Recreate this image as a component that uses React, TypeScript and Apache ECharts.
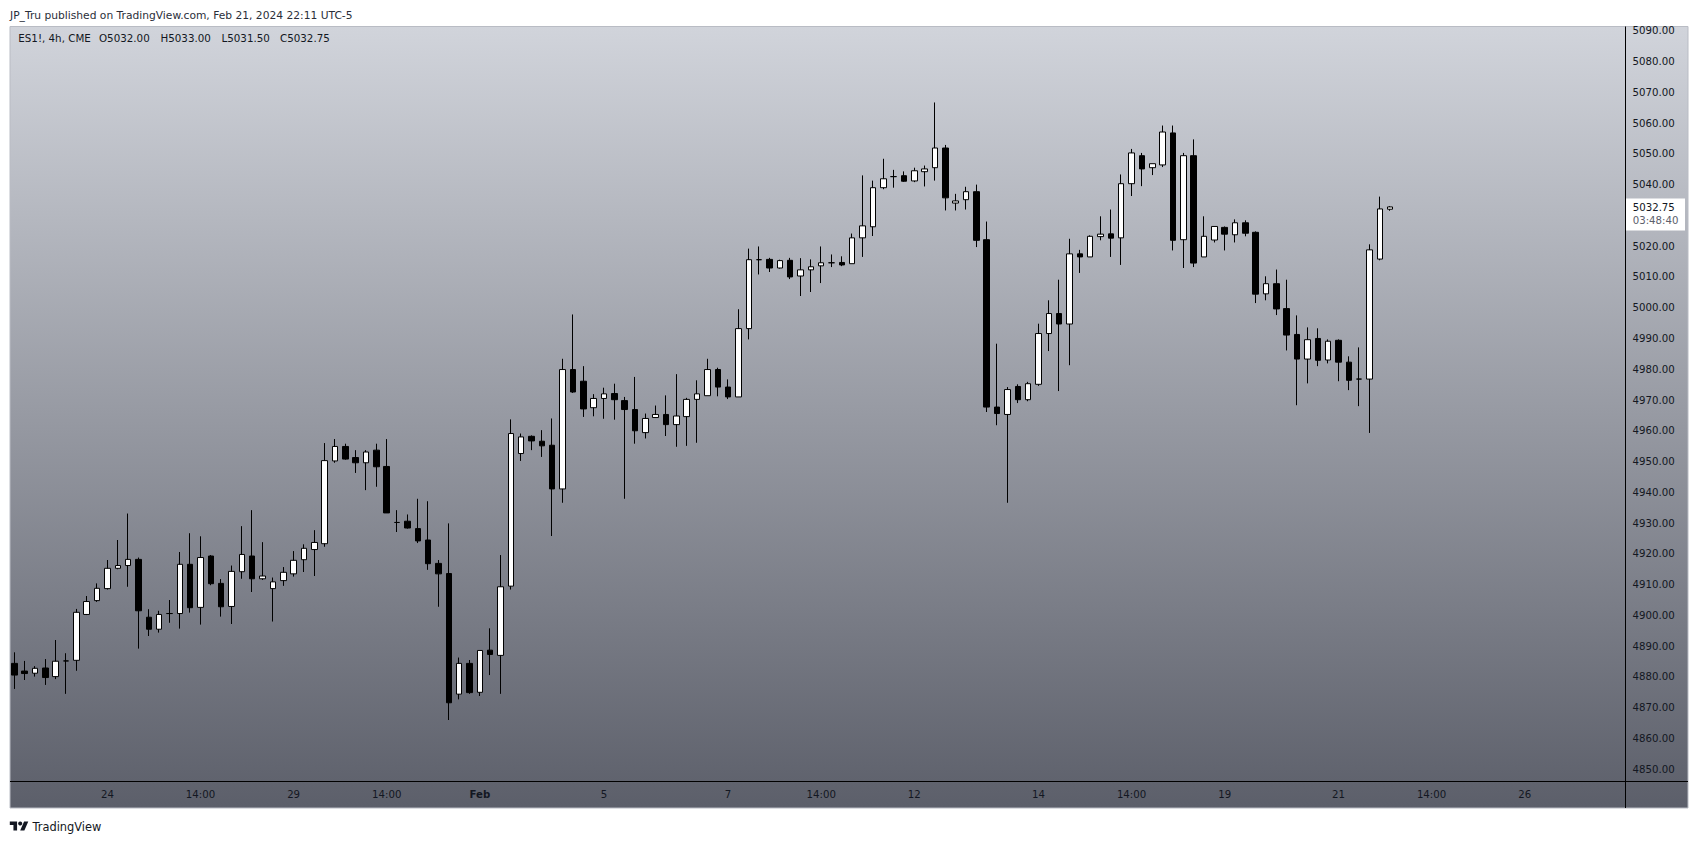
import React, { useEffect, useRef } from "react";
import * as echarts from "echarts";

// ---- data (ES1!, 4h, CME) : one entry per 4h bar, 14:00 Jan 22 -> 22:00 Feb 21 ----
const openPrices = [
  4884.4, 4881.9, 4881.2, 4882.9, 4880.1, 4885.2, 4885.4, 4900.3, 4904.8, 4908.7,
  4915.3, 4916.2, 4918.2, 4899.4, 4895.5, 4900.6, 4900.6, 4916.6, 4902.6, 4919.3,
  4910.4, 4902.9, 4914.2, 4919.3, 4911.9, 4908.7, 4911.3, 4913.5, 4918.1, 4921.4,
  4923.3, 4950.2, 4954.9, 4951.3, 4949.6, 4953.7, 4948.4, 4930.2, 4930.6, 4928.2,
  4924.5, 4916.9, 4913.6, 4874.4, 4884.4, 4875.0, 4888.7, 4887.0, 4909.5, 4952.6,
  4958.2, 4956.6, 4955.3, 4941.1, 4979.9, 4976.1, 4967.5, 4970.5, 4972.1, 4969.8,
  4966.9, 4959.4, 4964.3, 4965.3, 4962.0, 4964.6, 4970.2, 4971.4, 4979.9, 4974.2,
  4971.0, 4993.2, 5015.6, 5015.7, 5012.9, 5015.4, 5010.3, 5012.3, 5013.6, 5014.6,
  5014.7, 5014.3, 5022.7, 5026.3, 5039.0, 5042.6, 5042.9, 5041.2, 5044.2, 5045.5,
  5051.9, 5034.0, 5035.1, 5037.7, 5022.1, 4967.7, 4965.3, 4974.4, 4970.1, 4975.1,
  4991.6, 4998.1, 4994.7, 5017.5, 5016.5, 5023.1, 5024.0, 5022.7, 5040.3, 5049.4,
  5045.5, 5046.4, 5056.8, 5022.1, 5049.4, 5016.5, 5022.0, 5026.1, 5023.7, 5027.6,
  5024.5, 5004.5, 5007.8, 4999.7, 4991.3, 4983.3, 4990.0, 4983.0, 4989.4, 4982.3,
  4976.8, 4976.8, 5015.8, 5032.0,
];
const closePrices = [
  4880.6, 4881.1, 4882.8, 4879.8, 4885.1, 4885.2, 4901.0, 4904.5, 4908.8, 4915.3,
  4916.2, 4918.2, 4901.5, 4895.5, 4900.3, 4900.6, 4916.6, 4902.5, 4918.8, 4910.3,
  4902.8, 4914.3, 4919.8, 4911.9, 4912.8, 4910.9, 4914.0, 4917.9, 4921.8, 4923.7,
  4950.3, 4954.9, 4950.8, 4949.6, 4953.1, 4948.3, 4933.3, 4930.2, 4928.4, 4924.2,
  4916.8, 4913.5, 4871.6, 4884.4, 4874.9, 4888.6, 4887.3, 4909.3, 4959.1, 4958.0,
  4956.7, 4955.1, 4941.1, 4979.9, 4972.6, 4967.1, 4970.5, 4972.0, 4970.1, 4966.9,
  4960.0, 4964.0, 4965.3, 4962.0, 4964.8, 4970.2, 4972.0, 4979.9, 4974.2, 4971.0,
  4993.2, 5015.6, 5015.6, 5012.9, 5015.3, 5010.0, 5012.3, 5013.3, 5014.6, 5014.6,
  5013.9, 5022.7, 5026.6, 5039.0, 5041.9, 5042.6, 5041.1, 5044.5, 5045.1, 5051.9,
  5035.7, 5034.7, 5037.7, 5021.9, 4967.7, 4965.6, 4973.4, 4970.1, 4975.3, 4991.6,
  4998.1, 4994.7, 5017.5, 5016.5, 5023.2, 5023.9, 5022.6, 5040.3, 5050.3, 5045.1,
  5046.8, 5057.1, 5021.9, 5049.4, 5014.5, 5023.2, 5026.4, 5023.9, 5027.6, 5024.2,
  5004.4, 5007.8, 4999.6, 4991.1, 4983.3, 4989.6, 4982.9, 4989.1, 4982.3, 4976.4,
  4976.8, 5018.8, 5032.1, 5032.75,
];
const lowPrices = [
  4876.1, 4879.0, 4880.1, 4877.4, 4879.3, 4874.5, 4882.0, 4900.1, 4904.4, 4908.4,
  4915.0, 4909.3, 4889.2, 4893.3, 4894.4, 4897.6, 4895.7, 4900.9, 4897.0, 4909.8,
  4899.6, 4897.2, 4911.9, 4907.6, 4911.5, 4898.0, 4909.6, 4912.6, 4914.1, 4912.8,
  4922.3, 4949.6, 4950.6, 4946.3, 4940.7, 4941.8, 4933.3, 4927.1, 4928.2, 4923.5,
  4914.8, 4902.8, 4866.0, 4872.7, 4874.5, 4873.8, 4880.6, 4874.5, 4908.4, 4950.2,
  4953.7, 4951.5, 4925.8, 4936.6, 4972.3, 4964.5, 4964.7, 4963.9, 4963.6, 4937.9,
  4955.8, 4957.5, 4964.2, 4958.3, 4954.8, 4955.1, 4956.1, 4971.4, 4971.2, 4970.3,
  4971.0, 4989.7, 5010.8, 5011.6, 5012.7, 5009.3, 5003.8, 5005.1, 5008.0, 5013.2,
  5013.5, 5014.3, 5016.5, 5023.3, 5038.5, 5039.0, 5040.9, 5040.8, 5039.4, 5041.3,
  5031.6, 5031.6, 5031.9, 5019.7, 4966.1, 4961.8, 4936.6, 4969.0, 4969.6, 4974.6,
  4985.9, 4972.9, 4981.3, 5011.3, 5016.5, 5021.9, 5016.5, 5013.9, 5036.3, 5039.5,
  5043.1, 5045.7, 5018.6, 5012.9, 5013.2, 5016.5, 5021.2, 5018.6, 5021.2, 5023.2,
  5001.5, 5002.4, 4997.6, 4986.1, 4968.3, 4975.4, 4981.0, 4981.9, 4976.1, 4973.2,
  4968.0, 4959.3, 5015.4, 5031.5,
];
const highPrices = [
  4888.0, 4885.2, 4883.5, 4885.8, 4892.0, 4887.7, 4902.1, 4906.3, 4910.4, 4918.0,
  4924.5, 4933.1, 4918.8, 4902.0, 4901.5, 4905.0, 4920.6, 4926.7, 4925.7, 4919.6,
  4911.8, 4916.2, 4929.0, 4934.2, 4923.8, 4912.3, 4915.7, 4920.9, 4923.1, 4927.7,
  4956.0, 4957.3, 4955.8, 4953.7, 4953.7, 4955.8, 4957.3, 4934.2, 4932.8, 4937.9,
  4937.1, 4918.0, 4929.9, 4886.3, 4885.5, 4888.6, 4895.8, 4919.6, 4963.7, 4959.1,
  4958.5, 4960.2, 4964.0, 4983.4, 4997.8, 4981.0, 4971.9, 4974.0, 4975.3, 4971.0,
  4977.5, 4965.6, 4968.2, 4971.5, 4978.4, 4970.7, 4976.4, 4983.4, 4980.5, 4976.7,
  4999.5, 5019.2, 5019.9, 5016.2, 5015.6, 5016.2, 5016.1, 5015.7, 5019.9, 5017.3,
  5016.7, 5024.1, 5043.0, 5041.3, 5048.4, 5044.8, 5044.3, 5045.5, 5046.2, 5066.7,
  5052.9, 5037.0, 5039.3, 5040.0, 5028.0, 4988.3, 4974.2, 4975.1, 4975.9, 4994.8,
  5002.4, 5009.1, 5022.4, 5018.8, 5023.5, 5029.7, 5031.9, 5043.3, 5051.6, 5050.3,
  5046.8, 5059.2, 5059.2, 5050.3, 5054.7, 5029.7, 5026.4, 5026.4, 5028.7, 5028.4,
  5024.8, 5010.2, 5012.4, 5009.1, 4997.5, 4993.6, 4993.3, 4989.7, 4989.7, 4984.2,
  4987.1, 5020.6, 5036.1, 5033.0,
];

const futureSlots = 22; // empty bar slots to the right of the last bar
const timeTickSlots = [9, 18, 27, 36, 45, 57, 69, 78, 87, 99, 108, 117, 128, 137, 146];
const timeTickLabels = ["24", "14:00", "29", "14:00", "Feb", "5", "7", "14:00", "12", "14", "14:00", "19", "21", "14:00", "26"];
const boldTickLabels = ["Feb"];

const priceMin = 4840;
const priceMax = 5100;
const priceStep = 10;
const hiddenPriceTicks = [4840, 5100];

const lastPrice = 5032.75;
const countdownText = "03:48:40";
const headerText = "JP_Tru published on TradingView.com, Feb 21, 2024 22:11 UTC-5";
const legendText = ["ES1!, 4h, CME", "O5032.00", "H5033.00", "L5031.50", "C5032.75"];
const footerText = "TradingView";

// ---- layout ----
const W = 1699;
const H = 844;
const FONT = "DejaVu Sans";
const barStep = 10.345;
const firstBarX = 14.3;
const paneLeft = 10;
const paneTop = 26.5;
const paneRight = 1688;
const paneBottom = 808;
const priceAxisX = 1625.5;
const timeAxisY = 781.5;

export default function App() {
  const ref = useRef<HTMLDivElement>(null);

  useEffect(() => {
    if (!ref.current) return;
    const chart = echarts.init(ref.current, null, { renderer: "svg", width: W, height: H });

    const slotTotal = openPrices.length + futureSlots;
    const categories = Array.from({ length: slotTotal }, (_, i) => String(i));
    const tickMap = new Map<number, string>();
    timeTickSlots.forEach((s, i) => tickMap.set(s, timeTickLabels[i]));
    const candleData = openPrices.map((o, i) => [o, closePrices[i], lowPrices[i], highPrices[i]]);

    const gridLeft = firstBarX - barStep / 2;
    const gridWidth = slotTotal * barStep;
    const gridTop = 0;
    const gridHeight = 800;

    const bgGradient = new echarts.graphic.LinearGradient(0, 0, 0, 1, [
      { offset: 0, color: "#d1d4db" },
      { offset: 1, color: "#5c5f6a" },
    ]);

    const legendX = [18.3, 99, 160.5, 221.5, 280];

    const option: any = {
      animation: false,
      backgroundColor: "#ffffff",
      textStyle: { fontFamily: FONT },
      grid: { left: gridLeft, top: gridTop, width: gridWidth, height: gridHeight, containLabel: false },
      xAxis: {
        type: "category",
        data: categories,
        boundaryGap: true,
        offset: timeAxisY - (gridTop + gridHeight),
        axisLine: { show: false },
        axisTick: { show: false },
        splitLine: { show: false },
        axisLabel: {
          interval: (index: number) => tickMap.has(index),
          formatter: (_v: string, index: number) => {
            const t = tickMap.get(index) || "";
            return boldTickLabels.includes(t) ? `{b|${t}}` : t;
          },
          margin: 8,
          color: "#131722",
          fontFamily: FONT,
          fontSize: 10.2,
          rich: { b: { fontWeight: "bold", fontFamily: FONT, fontSize: 10.2, color: "#131722" } },
        },
      },
      yAxis: {
        type: "value",
        position: "right",
        min: priceMin,
        max: priceMax,
        interval: priceStep,
        offset: priceAxisX - (gridLeft + gridWidth),
        scale: true,
        axisLine: { show: false },
        axisTick: { show: false },
        splitLine: { show: false },
        axisLabel: {
          margin: 7,
          color: "#131722",
          fontFamily: FONT,
          fontSize: 10.2,
          // ticks hidden under the last-price box, or outside the pane, are not drawn
          formatter: (v: number) =>
            hiddenPriceTicks.includes(v) || (v > lastPrice - 6 && v < lastPrice + 3) ? "" : v.toFixed(2),
        },
      },
      series: [
        {
          type: "candlestick",
          data: candleData,
          barWidth: 6,
          itemStyle: {
            color: "#ffffff",
            color0: "#000000",
            borderColor: "#000000",
            borderColor0: "#000000",
            borderColorDoji: "#000000",
            borderWidth: 1,
          },
          emphasis: { disabled: true },
        },
      ],
      graphic: [
        {
          id: "bg",
          type: "rect",
          z: -10,
          silent: true,
          shape: { x: paneLeft, y: paneTop, width: paneRight - paneLeft, height: paneBottom - paneTop },
          style: { fill: bgGradient, stroke: "#b9bcc4", lineWidth: 1 },
        },
        {
          id: "timeAxisLine",
          type: "line",
          z: 50,
          silent: true,
          shape: { x1: paneLeft, y1: timeAxisY, x2: paneRight, y2: timeAxisY },
          style: { stroke: "#000000", lineWidth: 1 },
        },
        {
          id: "priceAxisLine",
          type: "line",
          z: 50,
          silent: true,
          shape: { x1: priceAxisX, y1: paneTop, x2: priceAxisX, y2: paneBottom },
          style: { stroke: "#000000", lineWidth: 1 },
        },
        {
          id: "header",
          type: "text",
          z: 50,
          x: 10,
          y: 15,
          style: { text: headerText, fill: "#2a2e39", font: `10.7px "${FONT}"`, verticalAlign: "middle" },
        },
        ...legendText.map((t, i) => ({
          id: "legend" + i,
          type: "text",
          z: 50,
          x: legendX[i],
          y: 37.5,
          style: { text: t, fill: "#131722", font: `10.3px "${FONT}"`, verticalAlign: "middle" },
        })),
        {
          id: "logo",
          type: "group",
          x: 9.8,
          y: 819.6,
          scaleX: 0.52,
          scaleY: 0.5,
          children: [
            { type: "polygon", shape: { points: [[0, 4], [14, 4], [14, 22], [7, 22], [7, 11], [0, 11]] }, style: { fill: "#131722" } },
            { type: "circle", shape: { cx: 20, cy: 8, r: 4 }, style: { fill: "#131722" } },
            { type: "polygon", shape: { points: [[20, 22], [27.5, 4], [35.5, 4], [28, 22]] }, style: { fill: "#131722" } },
          ],
        },
        {
          id: "footer",
          type: "text",
          z: 50,
          x: 32.5,
          y: 826.5,
          style: { text: footerText, fill: "#131722", font: `11.4px "${FONT}"`, verticalAlign: "middle" },
        },
      ],
    };

    chart.setOption(option);

    const yPx = chart.convertToPixel({ yAxisIndex: 0 }, lastPrice) as number;
    chart.setOption({
      graphic: [
        {
          id: "lastBox",
          type: "rect",
          z: 60,
          silent: true,
          shape: { x: priceAxisX + 0.5, y: yPx - 8.5, width: 59, height: 32 },
          style: { fill: "#ffffff" },
        },
        {
          id: "lastPrice",
          type: "text",
          z: 61,
          x: 1632.7,
          y: yPx + 1,
          style: { text: lastPrice.toFixed(2), fill: "#131722", font: `10.2px "${FONT}"`, verticalAlign: "middle" },
        },
        {
          id: "countdown",
          type: "text",
          z: 61,
          x: 1632.7,
          y: yPx + 13.5,
          style: { text: countdownText, fill: "#5d606b", font: `10.2px "${FONT}"`, verticalAlign: "middle" },
        },
      ],
    });

    return () => chart.dispose();
  }, []);

  return (
    <div
      ref={ref}
      style={{ position: "absolute", left: 0, top: 0, width: W, height: H, background: "#ffffff" }}
    />
  );
}
